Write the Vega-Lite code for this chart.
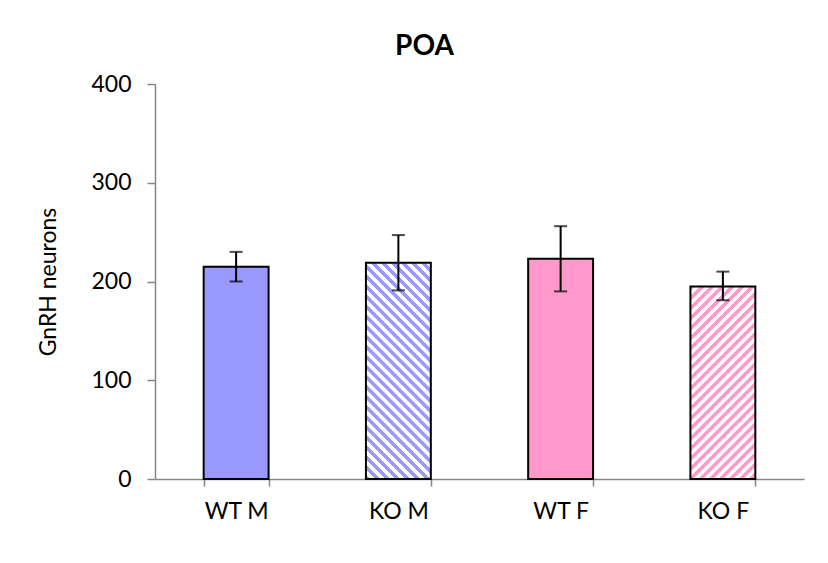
{
  "$schema": "https://vega.github.io/schema/vega-lite/v6.json",
  "width": 649,
  "height": 395,
  "autosize": {"type": "none"},
  "padding": {"left": 155, "top": 84, "right": 24, "bottom": 84},
  "background": "white",
  "config": {"view": {"stroke": null}},
  "title": {"text": "POA", "font": "Lato", "fontSize": 28, "fontWeight": "bold", "color": "black", "anchor": "middle", "frame": "group", "dx": -55, "offset": -10, "baseline": "alphabetic"},
  "data": {"values": [
    {"group": "WT M", "mean": 215, "lo": 200, "hi": 230, "style": "solid"},
    {"group": "KO M", "mean": 219, "lo": 191, "hi": 247, "style": "hatchM"},
    {"group": "WT F", "mean": 223, "lo": 190, "hi": 256, "style": "solid"},
    {"group": "KO F", "mean": 195, "lo": 181, "hi": 210, "style": "hatchF"}
  ]},
  "encoding": {
    "x": {"field": "group", "type": "nominal", "sort": ["WT M", "KO M", "WT F", "KO F"],
      "scale": {"paddingInner": 0.6, "paddingOuter": 0.3},
      "axis": {"title": null, "labelAngle": 0, "labelFont": "Lato", "labelFontSize": 23, "labelColor": "black", "labelPadding": 14,
        "domainColor": "#868686", "domainWidth": 1.5, "tickColor": "#868686", "tickWidth": 1.5, "tickSize": 7, "tickBand": "extent"}}
  },
  "layer": [
    {
      "transform": [{"filter": "datum.style == 'solid'"}],
      "mark": {"type": "bar", "stroke": "black", "strokeWidth": 2},
      "encoding": {
        "y": {"field": "mean", "type": "quantitative", "scale": {"domain": [0, 400], "nice": false},
          "axis": {"title": "GnRH neurons", "titleFont": "Lato", "titleFontSize": 23, "titleFontWeight": "normal", "titleColor": "black", "titlePadding": 30,
            "values": [0, 100, 200, 300, 400], "grid": false, "labelFont": "Lato", "labelFontSize": 23, "labelColor": "black", "labelPadding": 16,
            "domainColor": "#868686", "domainWidth": 1.5, "tickColor": "#868686", "tickWidth": 1.5, "tickSize": 8}},
        "color": {"field": "group", "type": "nominal", "scale": {"domain": ["WT M", "WT F"], "range": ["#9999ff", "#ff99cc"]}, "legend": null}
      }
    },
    {
      "transform": [{"filter": "datum.style == 'hatchM'"}],
      "mark": {"type": "bar", "stroke": "black", "strokeWidth": 2,
        "fill": {"gradient": "linear", "x1": 0, "y1": 1, "x2": 0.359, "y2": -0.193, "stops": [
          {"offset": 0, "color": "#9999ff"}, {"offset": 0.0143, "color": "#9999ff"}, {"offset": 0.0179, "color": "#ffffff"}, {"offset": 0.0321, "color": "#ffffff"},
          {"offset": 0.0357, "color": "#9999ff"}, {"offset": 0.05, "color": "#9999ff"}, {"offset": 0.0536, "color": "#ffffff"}, {"offset": 0.0679, "color": "#ffffff"},
          {"offset": 0.0714, "color": "#9999ff"}, {"offset": 0.0857, "color": "#9999ff"}, {"offset": 0.0893, "color": "#ffffff"}, {"offset": 0.1036, "color": "#ffffff"},
          {"offset": 0.1071, "color": "#9999ff"}, {"offset": 0.1214, "color": "#9999ff"}, {"offset": 0.125, "color": "#ffffff"}, {"offset": 0.1393, "color": "#ffffff"},
          {"offset": 0.1429, "color": "#9999ff"}, {"offset": 0.1571, "color": "#9999ff"}, {"offset": 0.1607, "color": "#ffffff"}, {"offset": 0.175, "color": "#ffffff"},
          {"offset": 0.1786, "color": "#9999ff"}, {"offset": 0.1929, "color": "#9999ff"}, {"offset": 0.1964, "color": "#ffffff"}, {"offset": 0.2107, "color": "#ffffff"},
          {"offset": 0.2143, "color": "#9999ff"}, {"offset": 0.2286, "color": "#9999ff"}, {"offset": 0.2321, "color": "#ffffff"}, {"offset": 0.2464, "color": "#ffffff"},
          {"offset": 0.25, "color": "#9999ff"}, {"offset": 0.2643, "color": "#9999ff"}, {"offset": 0.2679, "color": "#ffffff"}, {"offset": 0.2821, "color": "#ffffff"},
          {"offset": 0.2857, "color": "#9999ff"}, {"offset": 0.3, "color": "#9999ff"}, {"offset": 0.3036, "color": "#ffffff"}, {"offset": 0.3179, "color": "#ffffff"},
          {"offset": 0.3214, "color": "#9999ff"}, {"offset": 0.3357, "color": "#9999ff"}, {"offset": 0.3393, "color": "#ffffff"}, {"offset": 0.3536, "color": "#ffffff"},
          {"offset": 0.3571, "color": "#9999ff"}, {"offset": 0.3714, "color": "#9999ff"}, {"offset": 0.375, "color": "#ffffff"}, {"offset": 0.3893, "color": "#ffffff"},
          {"offset": 0.3929, "color": "#9999ff"}, {"offset": 0.4071, "color": "#9999ff"}, {"offset": 0.4107, "color": "#ffffff"}, {"offset": 0.425, "color": "#ffffff"},
          {"offset": 0.4286, "color": "#9999ff"}, {"offset": 0.4429, "color": "#9999ff"}, {"offset": 0.4464, "color": "#ffffff"}, {"offset": 0.4607, "color": "#ffffff"},
          {"offset": 0.4643, "color": "#9999ff"}, {"offset": 0.4786, "color": "#9999ff"}, {"offset": 0.4821, "color": "#ffffff"}, {"offset": 0.4964, "color": "#ffffff"},
          {"offset": 0.5, "color": "#9999ff"}, {"offset": 0.5143, "color": "#9999ff"}, {"offset": 0.5179, "color": "#ffffff"}, {"offset": 0.5321, "color": "#ffffff"},
          {"offset": 0.5357, "color": "#9999ff"}, {"offset": 0.55, "color": "#9999ff"}, {"offset": 0.5536, "color": "#ffffff"}, {"offset": 0.5679, "color": "#ffffff"},
          {"offset": 0.5714, "color": "#9999ff"}, {"offset": 0.5857, "color": "#9999ff"}, {"offset": 0.5893, "color": "#ffffff"}, {"offset": 0.6036, "color": "#ffffff"},
          {"offset": 0.6071, "color": "#9999ff"}, {"offset": 0.6214, "color": "#9999ff"}, {"offset": 0.625, "color": "#ffffff"}, {"offset": 0.6393, "color": "#ffffff"},
          {"offset": 0.6429, "color": "#9999ff"}, {"offset": 0.6571, "color": "#9999ff"}, {"offset": 0.6607, "color": "#ffffff"}, {"offset": 0.675, "color": "#ffffff"},
          {"offset": 0.6786, "color": "#9999ff"}, {"offset": 0.6929, "color": "#9999ff"}, {"offset": 0.6964, "color": "#ffffff"}, {"offset": 0.7107, "color": "#ffffff"},
          {"offset": 0.7143, "color": "#9999ff"}, {"offset": 0.7286, "color": "#9999ff"}, {"offset": 0.7321, "color": "#ffffff"}, {"offset": 0.7464, "color": "#ffffff"},
          {"offset": 0.75, "color": "#9999ff"}, {"offset": 0.7643, "color": "#9999ff"}, {"offset": 0.7679, "color": "#ffffff"}, {"offset": 0.7821, "color": "#ffffff"},
          {"offset": 0.7857, "color": "#9999ff"}, {"offset": 0.8, "color": "#9999ff"}, {"offset": 0.8036, "color": "#ffffff"}, {"offset": 0.8179, "color": "#ffffff"},
          {"offset": 0.8214, "color": "#9999ff"}, {"offset": 0.8357, "color": "#9999ff"}, {"offset": 0.8393, "color": "#ffffff"}, {"offset": 0.8536, "color": "#ffffff"},
          {"offset": 0.8571, "color": "#9999ff"}, {"offset": 0.8714, "color": "#9999ff"}, {"offset": 0.875, "color": "#ffffff"}, {"offset": 0.8893, "color": "#ffffff"},
          {"offset": 0.8929, "color": "#9999ff"}, {"offset": 0.9071, "color": "#9999ff"}, {"offset": 0.9107, "color": "#ffffff"}, {"offset": 0.925, "color": "#ffffff"},
          {"offset": 0.9286, "color": "#9999ff"}, {"offset": 0.9429, "color": "#9999ff"}, {"offset": 0.9464, "color": "#ffffff"}, {"offset": 0.9607, "color": "#ffffff"},
          {"offset": 0.9643, "color": "#9999ff"}, {"offset": 0.9786, "color": "#9999ff"}, {"offset": 0.9821, "color": "#ffffff"}, {"offset": 0.9964, "color": "#ffffff"},
          {"offset": 1, "color": "#9999ff"}
        ]}},
      "encoding": {"y": {"field": "mean", "type": "quantitative"}}
    },
    {
      "transform": [{"filter": "datum.style == 'hatchF'"}],
      "mark": {"type": "bar", "stroke": "black", "strokeWidth": 2,
        "fill": {"gradient": "linear", "x1": 0, "y1": 0, "x2": 0.442, "y2": 1.31, "stops": [
          {"offset": 0, "color": "#ff99cc"}, {"offset": 0.0143, "color": "#ff99cc"}, {"offset": 0.0179, "color": "#ffffff"}, {"offset": 0.0321, "color": "#ffffff"},
          {"offset": 0.0357, "color": "#ff99cc"}, {"offset": 0.05, "color": "#ff99cc"}, {"offset": 0.0536, "color": "#ffffff"}, {"offset": 0.0679, "color": "#ffffff"},
          {"offset": 0.0714, "color": "#ff99cc"}, {"offset": 0.0857, "color": "#ff99cc"}, {"offset": 0.0893, "color": "#ffffff"}, {"offset": 0.1036, "color": "#ffffff"},
          {"offset": 0.1071, "color": "#ff99cc"}, {"offset": 0.1214, "color": "#ff99cc"}, {"offset": 0.125, "color": "#ffffff"}, {"offset": 0.1393, "color": "#ffffff"},
          {"offset": 0.1429, "color": "#ff99cc"}, {"offset": 0.1571, "color": "#ff99cc"}, {"offset": 0.1607, "color": "#ffffff"}, {"offset": 0.175, "color": "#ffffff"},
          {"offset": 0.1786, "color": "#ff99cc"}, {"offset": 0.1929, "color": "#ff99cc"}, {"offset": 0.1964, "color": "#ffffff"}, {"offset": 0.2107, "color": "#ffffff"},
          {"offset": 0.2143, "color": "#ff99cc"}, {"offset": 0.2286, "color": "#ff99cc"}, {"offset": 0.2321, "color": "#ffffff"}, {"offset": 0.2464, "color": "#ffffff"},
          {"offset": 0.25, "color": "#ff99cc"}, {"offset": 0.2643, "color": "#ff99cc"}, {"offset": 0.2679, "color": "#ffffff"}, {"offset": 0.2821, "color": "#ffffff"},
          {"offset": 0.2857, "color": "#ff99cc"}, {"offset": 0.3, "color": "#ff99cc"}, {"offset": 0.3036, "color": "#ffffff"}, {"offset": 0.3179, "color": "#ffffff"},
          {"offset": 0.3214, "color": "#ff99cc"}, {"offset": 0.3357, "color": "#ff99cc"}, {"offset": 0.3393, "color": "#ffffff"}, {"offset": 0.3536, "color": "#ffffff"},
          {"offset": 0.3571, "color": "#ff99cc"}, {"offset": 0.3714, "color": "#ff99cc"}, {"offset": 0.375, "color": "#ffffff"}, {"offset": 0.3893, "color": "#ffffff"},
          {"offset": 0.3929, "color": "#ff99cc"}, {"offset": 0.4071, "color": "#ff99cc"}, {"offset": 0.4107, "color": "#ffffff"}, {"offset": 0.425, "color": "#ffffff"},
          {"offset": 0.4286, "color": "#ff99cc"}, {"offset": 0.4429, "color": "#ff99cc"}, {"offset": 0.4464, "color": "#ffffff"}, {"offset": 0.4607, "color": "#ffffff"},
          {"offset": 0.4643, "color": "#ff99cc"}, {"offset": 0.4786, "color": "#ff99cc"}, {"offset": 0.4821, "color": "#ffffff"}, {"offset": 0.4964, "color": "#ffffff"},
          {"offset": 0.5, "color": "#ff99cc"}, {"offset": 0.5143, "color": "#ff99cc"}, {"offset": 0.5179, "color": "#ffffff"}, {"offset": 0.5321, "color": "#ffffff"},
          {"offset": 0.5357, "color": "#ff99cc"}, {"offset": 0.55, "color": "#ff99cc"}, {"offset": 0.5536, "color": "#ffffff"}, {"offset": 0.5679, "color": "#ffffff"},
          {"offset": 0.5714, "color": "#ff99cc"}, {"offset": 0.5857, "color": "#ff99cc"}, {"offset": 0.5893, "color": "#ffffff"}, {"offset": 0.6036, "color": "#ffffff"},
          {"offset": 0.6071, "color": "#ff99cc"}, {"offset": 0.6214, "color": "#ff99cc"}, {"offset": 0.625, "color": "#ffffff"}, {"offset": 0.6393, "color": "#ffffff"},
          {"offset": 0.6429, "color": "#ff99cc"}, {"offset": 0.6571, "color": "#ff99cc"}, {"offset": 0.6607, "color": "#ffffff"}, {"offset": 0.675, "color": "#ffffff"},
          {"offset": 0.6786, "color": "#ff99cc"}, {"offset": 0.6929, "color": "#ff99cc"}, {"offset": 0.6964, "color": "#ffffff"}, {"offset": 0.7107, "color": "#ffffff"},
          {"offset": 0.7143, "color": "#ff99cc"}, {"offset": 0.7286, "color": "#ff99cc"}, {"offset": 0.7321, "color": "#ffffff"}, {"offset": 0.7464, "color": "#ffffff"},
          {"offset": 0.75, "color": "#ff99cc"}, {"offset": 0.7643, "color": "#ff99cc"}, {"offset": 0.7679, "color": "#ffffff"}, {"offset": 0.7821, "color": "#ffffff"},
          {"offset": 0.7857, "color": "#ff99cc"}, {"offset": 0.8, "color": "#ff99cc"}, {"offset": 0.8036, "color": "#ffffff"}, {"offset": 0.8179, "color": "#ffffff"},
          {"offset": 0.8214, "color": "#ff99cc"}, {"offset": 0.8357, "color": "#ff99cc"}, {"offset": 0.8393, "color": "#ffffff"}, {"offset": 0.8536, "color": "#ffffff"},
          {"offset": 0.8571, "color": "#ff99cc"}, {"offset": 0.8714, "color": "#ff99cc"}, {"offset": 0.875, "color": "#ffffff"}, {"offset": 0.8893, "color": "#ffffff"},
          {"offset": 0.8929, "color": "#ff99cc"}, {"offset": 0.9071, "color": "#ff99cc"}, {"offset": 0.9107, "color": "#ffffff"}, {"offset": 0.925, "color": "#ffffff"},
          {"offset": 0.9286, "color": "#ff99cc"}, {"offset": 0.9429, "color": "#ff99cc"}, {"offset": 0.9464, "color": "#ffffff"}, {"offset": 0.9607, "color": "#ffffff"},
          {"offset": 0.9643, "color": "#ff99cc"}, {"offset": 0.9786, "color": "#ff99cc"}, {"offset": 0.9821, "color": "#ffffff"}, {"offset": 0.9964, "color": "#ffffff"},
          {"offset": 1, "color": "#ff99cc"}
        ]}},
      "encoding": {"y": {"field": "mean", "type": "quantitative"}}
    },
    {
      "mark": {"type": "rule", "color": "black", "strokeWidth": 2},
      "encoding": {"y": {"field": "lo", "type": "quantitative"}, "y2": {"field": "hi"}}
    },
    {
      "mark": {"type": "tick", "color": "black", "size": 13, "thickness": 2},
      "encoding": {"y": {"field": "lo", "type": "quantitative"}}
    },
    {
      "mark": {"type": "tick", "color": "black", "size": 13, "thickness": 2},
      "encoding": {"y": {"field": "hi", "type": "quantitative"}}
    }
  ]
}
